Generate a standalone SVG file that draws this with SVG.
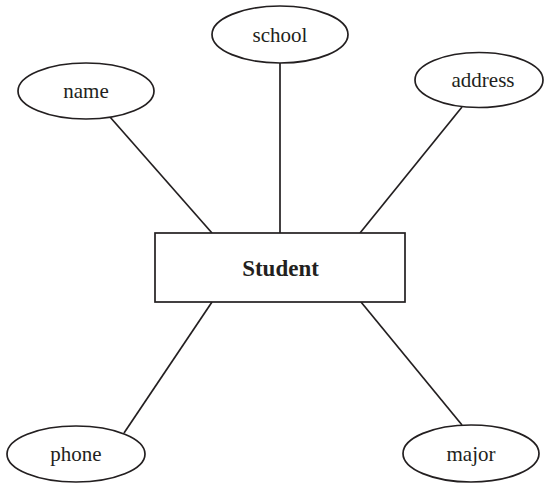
<svg xmlns="http://www.w3.org/2000/svg" width="544" height="484" viewBox="0 0 544 484">
  <style>
    .shape { fill: #ffffff; stroke: #231f20; stroke-width: 1.7; }
    .edge { stroke: #231f20; stroke-width: 1.7; fill: none; }
    .attr { font-family: "Liberation Serif", "DejaVu Serif", serif; font-size: 21px; fill: #231f20; text-anchor: middle; }
    .entity { font-family: "Liberation Serif", "DejaVu Serif", serif; font-size: 23px; font-weight: bold; fill: #231f20; text-anchor: middle; }
  </style>
  <rect width="544" height="484" fill="#ffffff"/>

  <!-- connectors from the entity to its attributes -->
  <g id="connectors">
    <line class="edge" x1="280" y1="63" x2="280" y2="233"/>
    <line class="edge" x1="110" y1="117" x2="212" y2="233"/>
    <line class="edge" x1="462" y1="107" x2="360" y2="233"/>
    <line class="edge" x1="212" y1="302" x2="124" y2="433"/>
    <line class="edge" x1="361" y1="302" x2="462" y2="425"/>
  </g>

  <g id="student">
    <rect class="shape" x="155" y="233" width="250" height="69"/>
    <text class="entity" x="280.5" y="276">Student</text>
  </g>

  <g id="school">
    <ellipse class="shape" cx="280" cy="34.5" rx="68" ry="28.5"/>
    <text class="attr" x="280" y="42">school</text>
  </g>

  <g id="name">
    <ellipse class="shape" cx="86" cy="91" rx="68" ry="28"/>
    <text class="attr" x="86" y="98">name</text>
  </g>

  <g id="address">
    <ellipse class="shape" cx="479" cy="80" rx="64" ry="27.5"/>
    <text class="attr" x="483" y="87">address</text>
  </g>

  <g id="phone">
    <ellipse class="shape" cx="76" cy="454" rx="69" ry="28"/>
    <text class="attr" x="76" y="461">phone</text>
  </g>

  <g id="major">
    <ellipse class="shape" cx="471" cy="453.5" rx="68" ry="28.5"/>
    <text class="attr" x="471" y="460.5">major</text>
  </g>
</svg>
